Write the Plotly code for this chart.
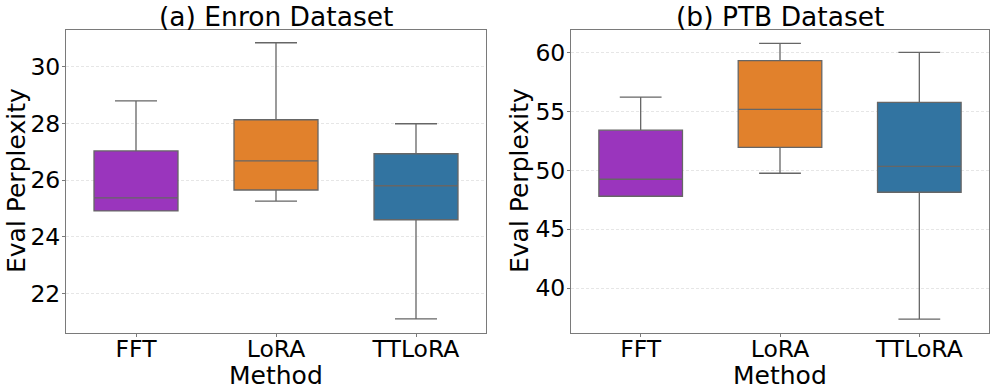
import plotly.graph_objects as go
from plotly.subplots import make_subplots

methods = ["FFT", "LoRA", "TTLoRA"]
colors = ["#9A35BD", "#E1812C", "#3274A1"]

# Enron dataset box stats
enron_min = [24.91, 25.26, 21.10]
enron_q1 = [24.91, 25.65, 24.60]
enron_med = [25.37, 26.68, 25.80]
enron_q3 = [27.03, 28.13, 26.93]
enron_max = [28.80, 30.85, 27.99]

# PTB dataset box stats
ptb_min = [47.80, 49.75, 37.37]
ptb_q1 = [47.80, 51.95, 48.14]
ptb_med = [49.24, 55.17, 50.34]
ptb_q3 = [53.40, 59.30, 55.76]
ptb_max = [56.20, 60.76, 60.00]

FONT = "DejaVu Sans, sans-serif"
LINE = "#666666"

fig = make_subplots(rows=1, cols=2)

panels = [
    (1, enron_min, enron_q1, enron_med, enron_q3, enron_max),
    (2, ptb_min, ptb_q1, ptb_med, ptb_q3, ptb_max),
]
for col, mn, q1, med, q3, mx in panels:
    for i, m in enumerate(methods):
        fig.add_trace(
            go.Box(
                x=[m],
                lowerfence=[mn[i]],
                q1=[q1[i]],
                median=[med[i]],
                q3=[q3[i]],
                upperfence=[mx[i]],
                fillcolor=colors[i],
                line=dict(color=LINE, width=1.3),
                width=0.6,
                whiskerwidth=0.5,
                showlegend=False,
                hoverinfo="skip",
            ),
            row=1,
            col=col,
        )

axis_common = dict(
    showline=True,
    linecolor="#7a7a7a",
    linewidth=1,
    mirror=True,
    ticks="outside",
    ticklen=3,
    tickcolor="#7a7a7a",
    tickfont=dict(family=FONT, size=23.5, color="black"),
    zeroline=False,
    automargin=False,
)

fig.update_xaxes(
    **axis_common,
    ticklabelstandoff=-8,
    showgrid=False,
    categoryorder="array",
    categoryarray=methods,
    range=[-0.5, 2.5],
)
fig.update_yaxes(
    **axis_common,
    ticklabelstandoff=-3,
    showgrid=True,
    gridcolor="#e6e6e6",
    griddash="3px,2px",
    gridwidth=1,
)

W, H = 996, 392
fig.update_layout(
    xaxis=dict(domain=[66 / W, 486 / W]),
    xaxis2=dict(domain=[571 / W, 989 / W]),
    yaxis=dict(domain=[1 - 333 / H, 1 - 30 / H], range=[20.6, 31.3], dtick=2),
    yaxis2=dict(domain=[1 - 333 / H, 1 - 30 / H], range=[36.2, 61.9], dtick=5),
    width=W,
    height=H,
    margin=dict(l=0, r=0, t=0, b=0),
    paper_bgcolor="white",
    plot_bgcolor="white",
    font=dict(family=FONT, color="black"),
)

for cx, ytx, label in [(276, 16, "(a) Enron Dataset"), (780, 519, "(b) PTB Dataset")]:
    fig.add_annotation(
        text=label, x=cx / W, y=1 - 16 / H, xref="paper", yref="paper",
        xanchor="center", yanchor="middle", showarrow=False,
        font=dict(family=FONT, size=26.5, color="black"),
    )
    fig.add_annotation(
        text="Method", x=cx / W, y=1 - 375 / H, xref="paper", yref="paper",
        xanchor="center", yanchor="middle", showarrow=False,
        font=dict(family=FONT, size=25, color="black"),
    )
    fig.add_annotation(
        text="Eval Perplexity", x=ytx / W, y=1 - 181 / H, xref="paper", yref="paper",
        xanchor="center", yanchor="middle", textangle=-90, showarrow=False,
        font=dict(family=FONT, size=25, color="black"),
    )

# page body has a default 8px margin; remove it so the figure sits at the origin
fig.write_html(
    "out.html",
    config={"displayModeBar": False},
    post_script="document.body.style.margin='0';",
)
